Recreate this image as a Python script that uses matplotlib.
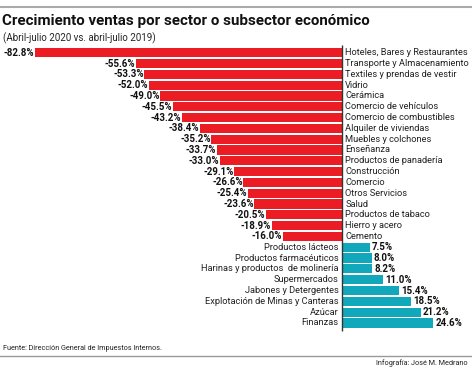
import matplotlib
matplotlib.use("Agg")
import matplotlib.pyplot as plt

# --- Datos ---
categorias = [
    "Hoteles, Bares y Restaurantes", "Transporte y Almacenamiento",
    "Textiles y prendas de vestir", "Vidrio", "Cerámica",
    "Comercio de vehículos", "Comercio de combustibles", "Alquiler de viviendas",
    "Muebles y colchones", "Enseñanza", "Productos de panadería", "Construcción",
    "Comercio", "Otros Servicios", "Salud", "Productos de tabaco",
    "Hierro y acero", "Cemento", "Productos lácteos", "Productos farmacéuticos",
    "Harinas y productos  de molinería", "Supermercados", "Jabones y Detergentes",
    "Explotación de Minas y Canteras", "Azúcar", "Finanzas",
]
valores = [
    -82.8, -55.6, -53.3, -52.0, -49.0, -45.5, -43.2, -38.4, -35.2, -33.7,
    -33.0, -29.1, -26.6, -25.4, -23.6, -20.5, -18.9, -16.0,
    7.5, 8.0, 8.2, 11.0, 15.4, 18.5, 21.2, 24.6,
]

ROJO = "#EC1C24"
AZUL = "#12A8BC"
FONT = ["Roboto", "DejaVu Sans"]

W, H = 472, 368
fig = plt.figure(figsize=(W / 100, H / 100), dpi=100)
ax = fig.add_axes([0, 0, 1, 1])
ax.axis("off")

# Skala: 0 bei x=342 px, 3.71 px pro Prozentpunkt; Zeilen ab y=52.7 px alle 10.81 px
px_u, x0 = 3.71, 342
row, y0 = 10.81, 52.7
ax.set_xlim(-x0 / px_u, (W - x0) / px_u)
ax.set_ylim((H - y0) / row, -y0 / row)

ys = list(range(len(valores)))
colores = [ROJO if v < 0 else AZUL for v in valores]
ax.barh(ys, valores, height=0.85, color=colores, linewidth=0)
ax.vlines(0, -0.75, len(valores) - 0.3, color="#333333", linewidth=1.0)

for y, cat, v in zip(ys, categorias, valores):
    etiqueta = f"{v:.1f}%"
    if v < 0:
        ax.text(0.9, y, cat, ha="left", va="center", fontsize=6.7,
                family=FONT, color="#222222")
        ax.text(v - 0.2, y, etiqueta, ha="right", va="center", fontsize=7.0,
                family=FONT, fontweight="bold", color="#111111")
    else:
        ax.text(-0.9, y, cat, ha="right", va="center", fontsize=6.7,
                family=FONT, color="#222222")
        ax.text(v + 0.6, y, etiqueta, ha="left", va="center", fontsize=7.0,
                family=FONT, fontweight="bold", color="#111111")

# Titel, Linien, Fußzeile
fig.add_artist(plt.Line2D([0, 1], [1 - 7 / H, 1 - 7 / H], color="#aaaaaa", linewidth=1.5))
fig.text(2 / W, 1 - 21 / H, "Crecimiento ventas por sector o subsector económico",
         ha="left", va="center", fontsize=10.9, fontweight="bold", family=FONT,
         color="#111111")
fig.text(3 / W, 1 - 38 / H, "(Abril-julio 2020 vs. abril-julio 2019)",
         ha="left", va="center", fontsize=7.0, family=FONT, color="#222222")
fig.text(3 / W, 1 - 349 / H, "Fuente: Dirección General de Impuestos Internos.",
         ha="left", va="center", fontsize=5.2, family=FONT, color="#222222")
fig.add_artist(plt.Line2D([0, 1], [1 - 356 / H, 1 - 356 / H], color="#999999", linewidth=1.0))
fig.text(468 / W, 1 - 363 / H, "Infografía: José M. Medrano",
         ha="right", va="center", fontsize=5.2, family=FONT, color="#222222")

fig.savefig("out.png", dpi=100)
